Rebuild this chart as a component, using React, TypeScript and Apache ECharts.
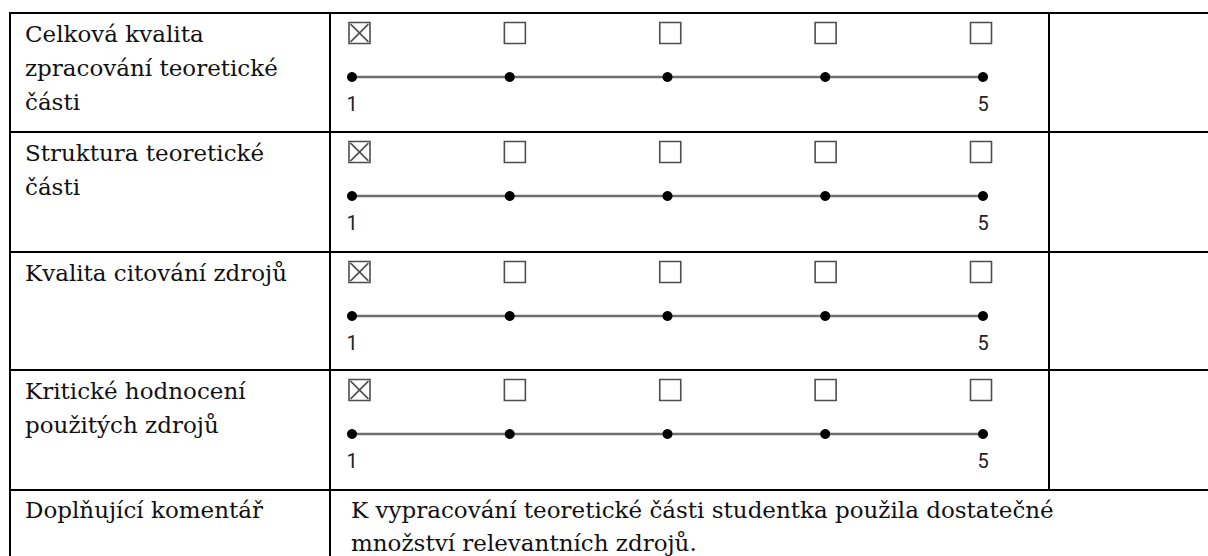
import React, { useEffect, useRef } from "react";
import * as echarts from "echarts";

const criteria: string[][] = [
  ["Celková kvalita", "zpracování teoretické", "části"],
  ["Struktura teoretické", "části"],
  ["Kvalita citování zdrojů"],
  ["Kritické hodnocení", "použitých zdrojů"],
];
const scores = [1, 1, 1, 1];
const scalePoints = [1, 2, 3, 4, 5];
const scaleEndLabels = ["1", "5"];
const commentLabel = "Doplňující komentář";
const commentLines = [
  "K vypracování teoretické části studentka použila dostatečné",
  "množství relevantních zdrojů.",
];

const ROW_TOPS = [13, 132, 252, 370, 490];
const SERIF = "23px DejaVu Serif";
const SANS = "20px Roboto";
const CHECKED = "path://M0 0H20V20H0Z M1.5 1.5L18.5 18.5 M18.5 1.5L1.5 18.5";
const EMPTY = "path://M0 0H20V20H0Z";

function buildOption() {
  const grid: any[] = [];
  const xAxis: any[] = [];
  const yAxis: any[] = [];
  const series: any[] = [];
  const graphic: any[] = [];

  const txt = (x: number, y: number, t: string) => ({
    type: "text",
    x,
    y,
    style: {
      text: t,
      font: SERIF,
      fill: "#111",
      align: "left",
      verticalAlign: "middle",
      textAlign: "left",
      textVerticalAlign: "middle",
    },
  });

  criteria.forEach((lines, i) => {
    const top = ROW_TOPS[i];
    grid.push({ left: 359.5, top: top + 10, width: 621.5, height: 20 });
    xAxis.push({ gridIndex: 2 * i, type: "value", min: 1, max: 5, interval: 1, show: false });
    yAxis.push({ gridIndex: 2 * i, type: "value", min: -1, max: 1, show: false });
    series.push({
      type: "scatter",
      xAxisIndex: 2 * i,
      yAxisIndex: 2 * i,
      silent: true,
      symbolSize: 21,
      itemStyle: { color: "rgba(0,0,0,0)", borderColor: "#222", borderWidth: 1.6 },
      data: scalePoints.map((v) => ({ value: [v, 0], symbol: v === scores[i] ? CHECKED : EMPTY })),
    });
    grid.push({ left: 352, top: top + 44, width: 631, height: 20 });
    xAxis.push({ gridIndex: 2 * i + 1, type: "value", min: 1, max: 5, interval: 1, show: false });
    yAxis.push({ gridIndex: 2 * i + 1, type: "value", min: 0, max: 1, show: false });
    series.push({
      type: "line",
      xAxisIndex: 2 * i + 1,
      yAxisIndex: 2 * i + 1,
      silent: true,
      clip: false,
      symbol: "circle",
      symbolSize: 10,
      showAllSymbol: true,
      itemStyle: { color: "#000" },
      lineStyle: { color: "#6f6f6f", width: 2.5 },
      data: scalePoints.map((v) => [v, 0]),
      z: 3,
    });
    series.push({
      type: "custom",
      xAxisIndex: 2 * i + 1,
      yAxisIndex: 2 * i + 1,
      silent: true,
      clip: false,
      data: scaleEndLabels.map((s) => [Number(s), 0]),
      renderItem: (params: any, api: any) => {
        const pt = api.coord([api.value(0), api.value(1)]);
        return {
          type: "text",
          x: pt[0],
          y: pt[1] + 27,
          style: {
            text: scaleEndLabels[params.dataIndex],
            font: SANS,
            fill: "#222",
            align: "center",
            verticalAlign: "middle",
            textAlign: "center",
            textVerticalAlign: "middle",
          },
        };
      },
      z: 4,
    });
    lines.forEach((t, k) => graphic.push(txt(25, top + 29 + 34 * k - 8, t)));
  });

  const ctop = ROW_TOPS[4];
  graphic.push(txt(25, ctop + 28 - 8, commentLabel));
  commentLines.forEach((t, k) => graphic.push(txt(351, ctop + 28 + 33 * k - 8, t)));

  const ln = (x1: number, y1: number, x2: number, y2: number) => ({
    type: "line",
    shape: { x1, y1, x2, y2 },
    style: { stroke: "#000", lineWidth: 2 },
    z: 10,
  });
  ROW_TOPS.forEach((y) => graphic.push(ln(9, y, 1208, y)));
  graphic.push(ln(10, 12, 10, 556));
  graphic.push(ln(330, 12, 330, 556));
  graphic.push(ln(1049, 12, 1049, ROW_TOPS[4]));

  return {
    animation: false,
    backgroundColor: "#fff",
    grid,
    xAxis,
    yAxis,
    series,
    graphic: { elements: graphic },
  };
}

export default function App() {
  const ref = useRef<HTMLDivElement>(null);
  useEffect(() => {
    if (!ref.current) return;
    const chart = echarts.init(ref.current, undefined, { renderer: "svg" });
    chart.setOption(buildOption() as any);
    return () => chart.dispose();
  }, []);
  return (
    <div
      ref={ref}
      style={{ position: "fixed", left: 0, top: 0, width: 1208, height: 556, background: "#fff" }}
    />
  );
}
